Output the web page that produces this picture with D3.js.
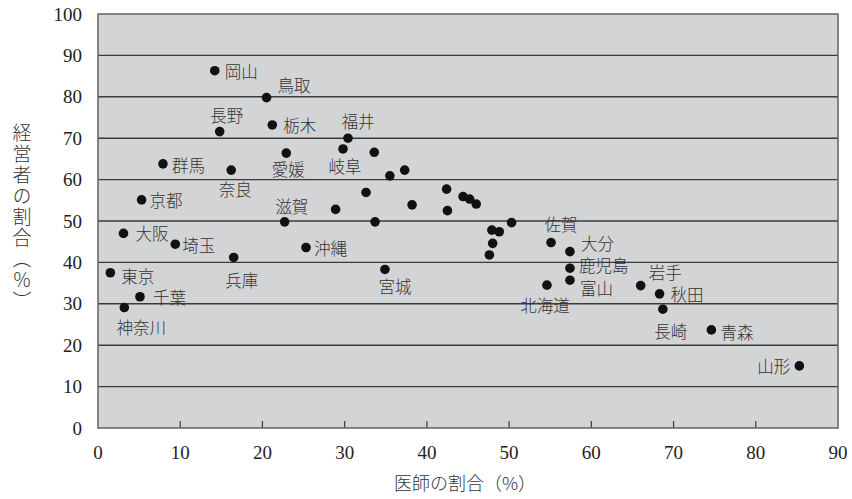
<!DOCTYPE html>
<html><head><meta charset="utf-8">
<script src="https://cdn.jsdelivr.net/npm/d3@7"></script>
<style>
html,body{margin:0;padding:0;background:#fff;}
svg{display:block;}
</style></head>
<body>
<svg id="chart" width="852" height="499"></svg>
<script>
// ---- data ----
const prefNames = ["岡山","鳥取","長野","栃木","福井","岐阜","愛媛","群馬","奈良","京都",
  "","滋賀","","","","","","","","",
  "","","","","","","","","佐賀","大分",
  "鹿児島","富山","北海道","宮城","沖縄","大阪","埼玉","兵庫","東京","千葉",
  "神奈川","岩手","秋田","長崎","青森","山形"];
const doctorShare = [14.2,20.5,14.8,21.2,30.4,29.8,22.9,7.9,16.2,5.3,
  28.9,22.7,33.6,37.3,35.5,32.6,42.4,44.4,45.2,46.0,
  38.2,42.5,33.7,50.3,47.9,48.8,48.0,47.6,55.1,57.4,
  57.4,57.4,54.6,34.9,25.3,3.1,9.4,16.5,1.5,5.1,
  3.2,66.0,68.3,68.7,74.6,85.3];
const managerShare = [86.3,79.8,71.6,73.2,70.0,67.4,66.4,63.8,62.3,55.1,
  52.8,49.8,66.6,62.3,60.9,56.9,57.7,55.9,55.3,54.1,
  53.9,52.5,49.8,49.6,47.8,47.4,44.6,41.8,44.8,42.6,
  38.6,35.7,34.5,38.3,43.6,47.0,44.4,41.2,37.5,31.7,
  29.1,34.4,32.4,28.7,23.7,15.0];
const xTicks = [0,10,20,30,40,50,60,70,80,90];
const yTicks = [0,10,20,30,40,50,60,70,80,90,100];
const xTitle = "医師の割合（%）";
const yTitle = "経営者の割合（％）";

// ---- label placement (dx, dy, anchor) ----
const labelPlace = {
  "岡山":[10,0,"start"],"鳥取":[11,-13,"start"],"長野":[7,-17,"middle"],"栃木":[11,0,"start"],
  "福井":[10,-17,"middle"],"岐阜":[2,17.5,"middle"],"愛媛":[2,16,"middle"],"群馬":[9,1,"start"],
  "奈良":[4,18.5,"middle"],"京都":[8,0,"start"],"滋賀":[7,-16,"middle"],"佐賀":[10,-19,"middle"],
  "大分":[11,-9,"start"],"鹿児島":[9,-3,"start"],"富山":[10,8,"start"],"北海道":[-2,20,"middle"],
  "宮城":[10,17,"middle"],"沖縄":[8,1,"start"],"大阪":[12,0,"start"],"埼玉":[7,1,"start"],
  "兵庫":[8,23,"middle"],"東京":[11,3,"start"],"千葉":[13,0,"start"],"神奈川":[17,19,"middle"],
  "岩手":[8,-14,"start"],"秋田":[11,0,"start"],"長崎":[8,22,"middle"],"青森":[9,2,"start"],
  "山形":[-9,0,"end"]
};

const svg = d3.select("#chart");
const x = d3.scaleLinear().domain([0,90]).range([98,838]);
const y = d3.scaleLinear().domain([0,100]).range([428,14]);
const numFont = "'Liberation Serif','DejaVu Serif',serif";
const jpFont = "'Noto Sans CJK JP','Noto Sans',sans-serif";

// plot background
svg.append("rect").attr("x",x(0)).attr("y",y(100))
  .attr("width",x(90)-x(0)).attr("height",y(0)-y(100))
  .attr("fill","#d3d4d6");

// gridlines
svg.append("g").selectAll("line").data(yTicks.filter(d=>d>0&&d<100)).join("line")
  .attr("x1",x(0)).attr("x2",x(90)).attr("y1",d=>y(d)).attr("y2",d=>y(d))
  .attr("stroke","#3a3a3a").attr("stroke-width",1.4);

// bottom ticks (inside)
svg.append("g").selectAll("line").data(xTicks.filter(d=>d>0&&d<90)).join("line")
  .attr("x1",d=>x(d)).attr("x2",d=>x(d)).attr("y1",y(0)).attr("y2",y(0)-7)
  .attr("stroke","#3a3a3a").attr("stroke-width",1.2);

// border
svg.append("rect").attr("x",x(0)).attr("y",y(100))
  .attr("width",x(90)-x(0)).attr("height",y(0)-y(100))
  .attr("fill","none").attr("stroke","#6a6a6a").attr("stroke-width",1.6);

// y tick labels
svg.append("g").selectAll("text").data(yTicks).join("text")
  .attr("x",82).attr("y",d=>y(d)).attr("text-anchor","end")
  .attr("dominant-baseline","central")
  .attr("font-family",numFont).attr("font-size",19).attr("fill","#222")
  .text(d=>d);

// x tick labels
svg.append("g").selectAll("text").data(xTicks).join("text")
  .attr("x",d=>x(d)).attr("y",452).attr("text-anchor","middle")
  .attr("dominant-baseline","central")
  .attr("font-family",numFont).attr("font-size",19).attr("fill","#222")
  .text(d=>d);

// axis titles
svg.append("text").attr("x",465).attr("y",482).attr("text-anchor","middle")
  .attr("dominant-baseline","central")
  .attr("font-family",jpFont).attr("font-weight",300).attr("font-size",18).attr("fill","#333")
  .text(xTitle);
svg.append("text").attr("x",22).attr("y",218)
  .attr("text-anchor","middle")
  .style("writing-mode","vertical-rl").style("text-orientation","mixed")
  .style("letter-spacing","2px")
  .attr("font-family",jpFont).attr("font-weight",300).attr("font-size",19).attr("fill","#333")
  .text(yTitle);

// points
const pts = prefNames.map((n,i)=>({name:n, dx:doctorShare[i], mg:managerShare[i]}));
svg.append("g").selectAll("circle").data(pts).join("circle")
  .attr("cx",d=>x(d.dx)).attr("cy",d=>y(d.mg)).attr("r",4.8).attr("fill","#111");

// labels
svg.append("g").selectAll("text").data(pts.filter(d=>d.name && labelPlace[d.name])).join("text")
  .attr("x",d=>x(d.dx)+labelPlace[d.name][0])
  .attr("y",d=>y(d.mg)+labelPlace[d.name][1])
  .attr("text-anchor",d=>labelPlace[d.name][2])
  .attr("dominant-baseline","central")
  .attr("font-family",jpFont).attr("font-weight",300).attr("font-size",16.5).attr("fill","#333")
  .text(d=>d.name);
</script>
</body></html>
